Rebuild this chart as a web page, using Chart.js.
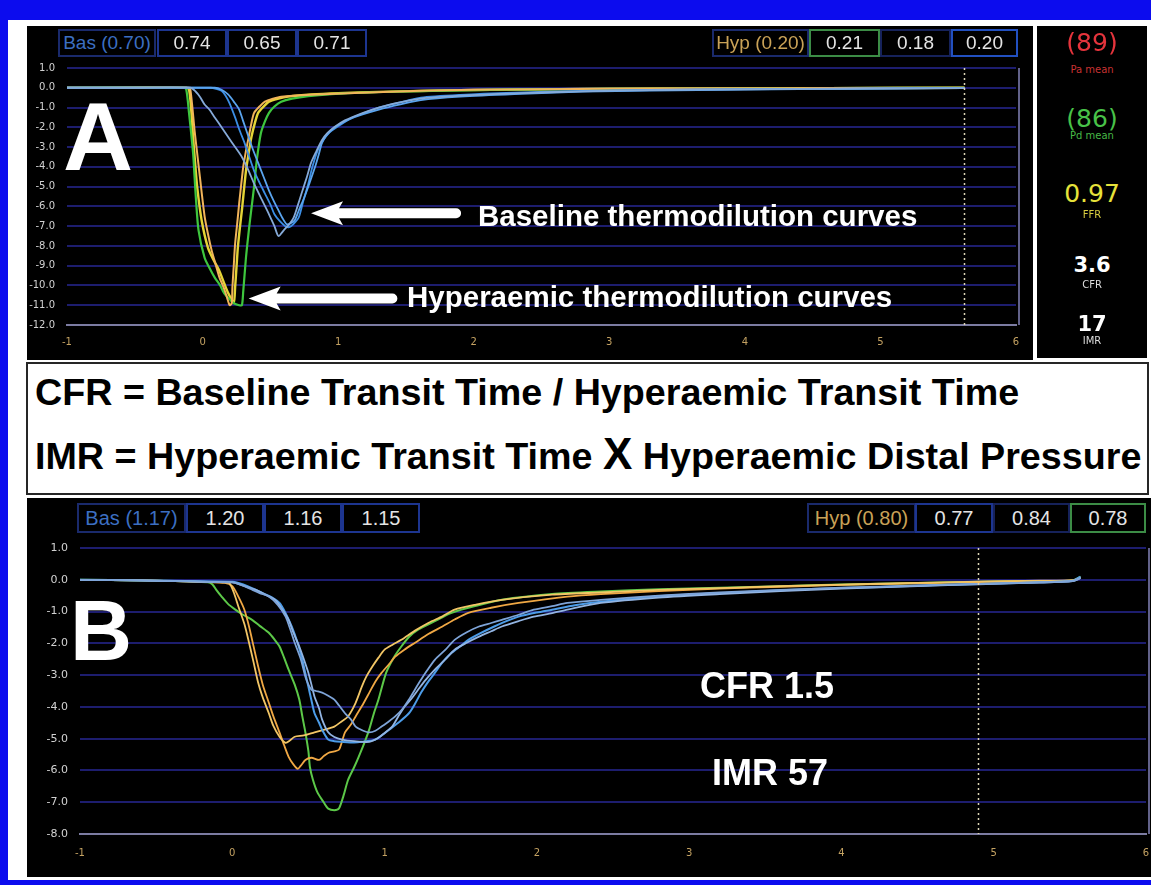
<!DOCTYPE html>
<html>
<head>
<meta charset="utf-8">
<script src="https://cdn.jsdelivr.net/npm/chart.js@4/dist/chart.umd.min.js"></script>
<style>
  html, body { margin: 0; padding: 0; }
  body { width: 1151px; height: 885px; background: #0c0cee; position: relative; overflow: hidden;
         font-family: "Liberation Sans", Arial, sans-serif; }
  .abs { position: absolute; }
  #sheet { left: 8px; top: 20px; width: 1143px; height: 860px; background: #fff; }
  #panelA { left: 27px; top: 26px; width: 1006px; height: 334px; background: #000; }
  #side { left: 1037px; top: 26px; width: 110px; height: 332px; background: #000; }
  #formula { left: 26px; top: 362px; width: 1119px; height: 129px; background: #fff; border: 2px solid #262626; }
  #panelB { left: 27px; top: 498px; width: 1124px; height: 379px; background: #000; }
  canvas { position: absolute; left: 0; top: 0; }
  .box { position: absolute; box-sizing: border-box; border: 2px solid #1a2a6c; background: #000;
         color: #e4e4e4; display: flex; align-items: center; justify-content: center; white-space: nowrap; }
  .lbl { position: absolute; white-space: nowrap; line-height: 1; }
</style>
</head>
<body>
<div id="sheet" class="abs"></div>
<div id="panelA" class="abs"><canvas id="chartA" width="1006" height="334"></canvas></div>
<div id="side" class="abs"></div>
<div id="formula" class="abs"></div>
<div id="panelB" class="abs"><canvas id="chartB" width="1124" height="379"></canvas></div>

<script>
// ---- Panel A: thermodilution curves, temperature change vs time (s) ----
const xTicks = [-1, 0, 1, 2, 3, 4, 5, 6];
const yTicksA = [1, 0, -1, -2, -3, -4, -5, -6, -7, -8, -9, -10, -11, -12];
const yTicksB = [1, 0, -1, -2, -3, -4, -5, -6, -7, -8];
const markerA = 5.62;   // end-of-recording marker
const markerB = 4.9;

const basA1 = [[-1,0],[-0.5,0],[-0.09,0],[-0.05,-0.2],[-0.02,-0.45],[0.015,-0.85],[0.05,-1.1],[0.09,-1.5],[0.14,-2.0],[0.19,-2.5],[0.24,-3.0],[0.29,-3.5],[0.34,-4.2],[0.38,-4.85],[0.44,-5.7],[0.49,-6.4],[0.53,-7.0],[0.56,-7.5],[0.6,-7.2],[0.64,-6.9],[0.67,-6.6],[0.7,-6.0],[0.73,-5.35],[0.77,-4.5],[0.8,-3.8],[0.84,-3.2],[0.88,-2.65],[0.92,-2.3],[0.97,-2.0],[1.05,-1.65],[1.17,-1.3],[1.3,-1.0],[1.41,-0.8],[1.61,-0.55],[1.9,-0.4],[2.3,-0.28],[2.8,-0.18],[3.3,-0.12],[4.0,-0.08],[4.8,-0.04],[5.62,-0.02]];
const basA2 = [[-1,0],[0.09,0],[0.14,-0.1],[0.19,-0.35],[0.23,-0.7],[0.27,-1.1],[0.3,-1.7],[0.34,-2.5],[0.37,-3.1],[0.41,-3.8],[0.45,-4.5],[0.49,-5.2],[0.53,-5.8],[0.56,-6.2],[0.59,-6.6],[0.62,-6.9],[0.65,-6.85],[0.68,-6.7],[0.71,-6.2],[0.75,-5.55],[0.79,-4.8],[0.83,-4.0],[0.86,-3.3],[0.88,-2.8],[0.91,-2.45],[0.95,-2.15],[1.0,-1.9],[1.08,-1.6],[1.18,-1.35],[1.3,-1.1],[1.45,-0.85],[1.61,-0.62],[1.9,-0.45],[2.3,-0.32],[2.8,-0.2],[3.3,-0.14],[4.0,-0.09],[4.8,-0.05],[5.62,-0.02]];
const basA3 = [[-1,0],[0.06,0],[0.1,-0.05],[0.14,-0.15],[0.17,-0.4],[0.2,-0.8],[0.24,-1.5],[0.27,-2.1],[0.31,-2.8],[0.34,-3.4],[0.38,-4.2],[0.42,-4.8],[0.46,-5.35],[0.5,-5.9],[0.53,-6.4],[0.57,-6.75],[0.61,-7.0],[0.64,-7.05],[0.67,-6.9],[0.71,-6.55],[0.74,-5.8],[0.78,-4.85],[0.81,-4.0],[0.85,-3.15],[0.89,-2.65],[0.93,-2.3],[1.0,-1.95],[1.08,-1.6],[1.18,-1.3],[1.3,-1.0],[1.45,-0.75],[1.61,-0.5],[1.9,-0.36],[2.3,-0.25],[2.8,-0.16],[3.3,-0.11],[4.0,-0.07],[4.8,-0.04],[5.62,-0.01]];
const hypA1 = [[-1,0],[-0.14,0],[-0.12,-0.1],[-0.1,-1.27],[-0.07,-3.3],[-0.06,-4.4],[-0.05,-5.5],[-0.03,-7.2],[0.015,-8.6],[0.05,-9.1],[0.09,-9.6],[0.13,-10.0],[0.16,-10.4],[0.2,-10.7],[0.23,-10.9],[0.27,-11.0],[0.29,-11.0],[0.3,-10.3],[0.32,-8.6],[0.335,-7.6],[0.35,-6.7],[0.38,-5.0],[0.4,-3.66],[0.43,-2.3],[0.46,-1.7],[0.49,-1.27],[0.53,-0.95],[0.58,-0.71],[0.66,-0.55],[0.78,-0.42],[0.95,-0.32],[1.2,-0.24],[1.6,-0.17],[2.0,-0.12],[2.5,-0.08],[3.0,-0.06],[3.8,-0.04],[4.6,-0.02],[5.62,0]];
const hypA2 = [[-1,0],[-0.12,0],[-0.1,-0.1],[-0.085,-1.0],[-0.07,-2.5],[-0.055,-3.8],[-0.04,-5.0],[-0.007,-6.7],[0.04,-8.1],[0.08,-8.7],[0.12,-9.2],[0.16,-9.9],[0.19,-10.4],[0.23,-10.85],[0.24,-10.1],[0.25,-9.1],[0.26,-8.1],[0.275,-7.1],[0.29,-6.2],[0.32,-4.2],[0.34,-3.3],[0.36,-2.5],[0.385,-1.8],[0.41,-1.27],[0.45,-0.95],[0.49,-0.7],[0.56,-0.55],[0.63,-0.45],[0.8,-0.34],[1.0,-0.27],[1.3,-0.21],[1.6,-0.16],[2.0,-0.11],[2.5,-0.08],[3.0,-0.05],[3.8,-0.03],[4.6,-0.02],[5.62,0]];
const hypA3 = [[-1,0],[-0.1,0],[-0.09,-0.1],[-0.075,-1.0],[-0.06,-2.1],[-0.04,-3.3],[-0.02,-4.5],[0.015,-6.5],[0.04,-7.4],[0.066,-8.2],[0.095,-8.9],[0.125,-9.6],[0.155,-10.1],[0.18,-10.6],[0.2,-11.0],[0.215,-10.9],[0.22,-10.1],[0.23,-9.0],[0.24,-7.9],[0.255,-6.9],[0.27,-5.85],[0.3,-4.0],[0.32,-3.2],[0.34,-2.5],[0.36,-1.8],[0.38,-1.27],[0.42,-0.95],[0.46,-0.7],[0.52,-0.55],[0.58,-0.45],[0.8,-0.35],[1.17,-0.25],[1.61,-0.15],[2.0,-0.1],[2.5,-0.07],[3.0,-0.05],[3.8,-0.03],[4.6,-0.01],[5.62,0]];

// ---- Panel B ----
const basB1 = [[-1,0],[-0.6,-0.02],[-0.3,-0.05],[0.0,-0.08],[0.02,-0.1],[0.08,-0.2],[0.13,-0.31],[0.18,-0.42],[0.24,-0.53],[0.3,-0.8],[0.35,-1.16],[0.38,-1.55],[0.41,-1.98],[0.45,-2.5],[0.48,-3.05],[0.5,-3.3],[0.52,-3.46],[0.55,-3.5],[0.59,-3.55],[0.63,-3.65],[0.67,-3.77],[0.7,-3.95],[0.74,-4.2],[0.78,-4.4],[0.81,-4.62],[0.86,-4.75],[0.9,-4.8],[0.94,-4.75],[0.98,-4.62],[1.03,-4.45],[1.07,-4.3],[1.12,-4.05],[1.16,-3.77],[1.2,-3.45],[1.24,-3.14],[1.28,-2.85],[1.33,-2.52],[1.4,-2.2],[1.46,-1.89],[1.54,-1.65],[1.62,-1.47],[1.7,-1.36],[1.77,-1.26],[1.88,-1.1],[1.98,-0.94],[2.1,-0.83],[2.2,-0.73],[2.42,-0.63],[2.8,-0.5],[3.2,-0.4],[3.6,-0.32],[4.0,-0.25],[4.5,-0.18],[4.9,-0.13],[5.3,-0.08],[5.52,-0.04],[5.57,0.06]];
const basB2 = [[-1,0],[-0.6,-0.02],[-0.3,-0.04],[0.0,-0.06],[0.04,-0.1],[0.1,-0.2],[0.2,-0.42],[0.26,-0.55],[0.31,-0.73],[0.35,-1.05],[0.39,-1.47],[0.43,-2.0],[0.46,-2.52],[0.48,-2.95],[0.5,-3.37],[0.52,-3.8],[0.54,-4.2],[0.57,-4.5],[0.59,-4.72],[0.63,-5.03],[0.67,-5.08],[0.72,-5.1],[0.8,-5.12],[0.85,-5.1],[0.94,-5.03],[0.98,-4.9],[1.03,-4.72],[1.09,-4.5],[1.16,-4.2],[1.2,-3.9],[1.24,-3.55],[1.28,-3.25],[1.33,-2.93],[1.38,-2.6],[1.44,-2.3],[1.5,-2.08],[1.55,-1.89],[1.63,-1.68],[1.72,-1.47],[1.8,-1.3],[1.88,-1.16],[2.0,-1.03],[2.1,-0.94],[2.25,-0.8],[2.42,-0.69],[2.8,-0.52],[3.2,-0.42],[3.6,-0.33],[4.0,-0.26],[4.5,-0.19],[4.9,-0.13],[5.3,-0.08],[5.52,-0.03],[5.57,0.1]];
const basB3 = [[-1,0],[-0.6,-0.02],[-0.3,-0.05],[0.0,-0.08],[0.02,-0.1],[0.08,-0.2],[0.15,-0.31],[0.21,-0.45],[0.28,-0.63],[0.33,-0.95],[0.37,-1.26],[0.4,-1.65],[0.44,-2.1],[0.47,-2.5],[0.5,-2.93],[0.52,-3.3],[0.54,-3.68],[0.57,-4.05],[0.59,-4.4],[0.63,-4.8],[0.67,-4.95],[0.72,-5.03],[0.8,-5.08],[0.9,-5.1],[0.96,-4.97],[1.0,-4.82],[1.05,-4.62],[1.09,-4.3],[1.13,-4.0],[1.18,-3.72],[1.22,-3.46],[1.27,-3.15],[1.33,-2.83],[1.4,-2.5],[1.46,-2.2],[1.54,-1.98],[1.62,-1.79],[1.7,-1.62],[1.77,-1.47],[1.88,-1.3],[1.98,-1.16],[2.1,-1.05],[2.2,-0.94],[2.42,-0.73],[2.8,-0.56],[3.2,-0.45],[3.6,-0.36],[4.0,-0.28],[4.5,-0.2],[4.9,-0.14],[5.3,-0.09],[5.52,-0.04],[5.57,0.05]];
const hypB1 = [[-1,0],[-0.6,-0.02],[-0.3,-0.05],[-0.16,-0.08],[-0.13,-0.15],[-0.1,-0.35],[-0.07,-0.53],[-0.03,-0.75],[0.02,-0.94],[0.07,-1.1],[0.13,-1.26],[0.18,-1.45],[0.24,-1.67],[0.28,-1.9],[0.31,-2.1],[0.34,-2.45],[0.37,-2.83],[0.41,-3.3],[0.44,-3.77],[0.46,-4.3],[0.48,-4.8],[0.5,-5.4],[0.51,-5.9],[0.53,-6.3],[0.56,-6.7],[0.6,-7.0],[0.63,-7.2],[0.67,-7.25],[0.7,-7.2],[0.73,-6.8],[0.76,-6.3],[0.8,-5.9],[0.83,-5.57],[0.87,-5.1],[0.9,-4.7],[0.93,-4.2],[0.96,-3.77],[1.01,-2.93],[1.06,-2.45],[1.11,-2.1],[1.16,-1.8],[1.22,-1.57],[1.33,-1.3],[1.44,-1.04],[1.6,-0.82],[1.77,-0.63],[2.1,-0.45],[2.42,-0.37],[2.8,-0.3],[3.2,-0.25],[3.6,-0.2],[4.0,-0.15],[4.5,-0.1],[4.9,-0.06],[5.3,-0.04],[5.52,-0.02],[5.57,0.1]];
const hypB2 = [[-1,0],[-0.6,-0.02],[-0.3,-0.05],[-0.05,-0.1],[0,-0.2],[0.04,-0.53],[0.08,-0.95],[0.11,-1.47],[0.14,-2.1],[0.17,-2.73],[0.2,-3.3],[0.24,-3.87],[0.27,-4.3],[0.31,-4.8],[0.34,-5.2],[0.37,-5.57],[0.4,-5.8],[0.43,-5.95],[0.45,-5.85],[0.48,-5.67],[0.52,-5.6],[0.57,-5.67],[0.6,-5.55],[0.63,-5.45],[0.67,-5.4],[0.7,-5.35],[0.72,-5.1],[0.74,-4.8],[0.78,-4.55],[0.81,-4.3],[0.86,-3.9],[0.9,-3.55],[0.94,-3.2],[0.98,-2.93],[1.03,-2.65],[1.07,-2.42],[1.13,-2.2],[1.2,-1.98],[1.29,-1.7],[1.38,-1.47],[1.46,-1.25],[1.55,-1.04],[1.7,-0.88],[1.88,-0.73],[2.2,-0.53],[2.42,-0.45],[2.8,-0.36],[3.2,-0.28],[3.6,-0.22],[4.0,-0.16],[4.5,-0.11],[4.9,-0.07],[5.3,-0.04],[5.52,-0.02],[5.57,0.08]];
const hypB3 = [[-1,0],[-0.6,-0.02],[-0.3,-0.05],[-0.05,-0.08],[-0.02,-0.1],[0.01,-0.4],[0.04,-0.84],[0.08,-1.4],[0.11,-1.98],[0.14,-2.6],[0.17,-3.24],[0.2,-3.7],[0.24,-4.2],[0.27,-4.6],[0.31,-4.94],[0.35,-5.13],[0.38,-5.05],[0.41,-4.94],[0.47,-4.9],[0.54,-4.8],[0.6,-4.72],[0.67,-4.62],[0.72,-4.45],[0.76,-4.3],[0.81,-3.87],[0.85,-3.37],[0.88,-3.05],[0.92,-2.73],[0.96,-2.45],[1.0,-2.2],[1.05,-2.05],[1.11,-1.89],[1.2,-1.6],[1.29,-1.35],[1.38,-1.15],[1.46,-0.94],[1.6,-0.78],[1.77,-0.63],[2.1,-0.47],[2.42,-0.4],[2.8,-0.32],[3.2,-0.26],[3.6,-0.2],[4.0,-0.15],[4.5,-0.1],[4.9,-0.06],[5.3,-0.03],[5.52,-0.01],[5.57,0.06]];

// ---- Header read-outs (transit times) ----
const basLabelA = 'Bas (0.70)', basTimesA = ['0.74', '0.65', '0.71'];
const hypLabelA = 'Hyp (0.20)', hypTimesA = ['0.21', '0.18', '0.20'];
const basLabelB = 'Bas (1.17)', basTimesB = ['1.20', '1.16', '1.15'];
const hypLabelB = 'Hyp (0.80)', hypTimesB = ['0.77', '0.84', '0.78'];

// Right-hand summary values
const sideValues = [
  { big: '(89)', small: 'Pa mean', color: '#e5343c', sub: '#c83232' },
  { big: '(86)', small: 'Pd mean', color: '#48c248', sub: '#46b846' },
  { big: '0.97', small: 'FFR',     color: '#e6e23a', sub: '#d8cc40' },
  { big: '3.6',  small: 'CFR',     color: '#ffffff', sub: '#dddddd', bold: true },
  { big: '17',   small: 'IMR',     color: '#ffffff', sub: '#dddddd', bold: true }
];

// ---------- drawing helpers ----------
function drawArrow(ctx, tipX, tipY, tailX) {
  const headL = 32, headH = 12, shaft = 5;
  ctx.beginPath();
  ctx.moveTo(tipX, tipY);
  ctx.lineTo(tipX + headL, tipY - headH);
  ctx.lineTo(tipX + headL - 4, tipY - shaft);
  ctx.lineTo(tailX, tipY - shaft);
  ctx.arc(tailX, tipY, shaft, -Math.PI / 2, Math.PI / 2);
  ctx.lineTo(tipX + headL - 4, tipY + shaft);
  ctx.lineTo(tipX + headL, tipY + headH);
  ctx.closePath();
  ctx.fillStyle = '#ffffff';
  ctx.fill();
}

const frameExtras = {
  id: 'frameExtras',
  beforeDatasetsDraw(chart, args, opts) {
    const { ctx, chartArea: a } = chart;
    ctx.save();
    ctx.strokeStyle = '#62628a';
    ctx.lineWidth = 2;
    ctx.beginPath();
    ctx.moveTo(a.right + 3, a.top);
    ctx.lineTo(a.right + 3, a.bottom);
    ctx.stroke();
    ctx.restore();
  },
  afterDatasetsDraw(chart, args, opts) {
    const { ctx, chartArea: a, scales: { x, y } } = chart;
    ctx.save();
    const mx = Math.round(x.getPixelForValue(opts.marker)) + 0.5;
    ctx.setLineDash([2, 3]);
    ctx.strokeStyle = '#ddd6b8';
    ctx.lineWidth = 1.5;
    ctx.beginPath();
    ctx.moveTo(mx, a.top);
    ctx.lineTo(mx, a.bottom);
    ctx.stroke();
    ctx.setLineDash([]);
    (opts.arrows || []).forEach(ar => {
      drawArrow(ctx, x.getPixelForValue(ar.tip[0]), y.getPixelForValue(ar.tip[1]), x.getPixelForValue(ar.tail));
    });
    ctx.restore();
  }
};

function makeChart(id, series, cfg) {
  return new Chart(document.getElementById(id), {
    type: 'line',
    data: {
      datasets: series.map(s => ({
        data: s.points.map(([x, y]) => ({ x, y })),
        borderColor: s.color,
        borderWidth: s.width,
        pointRadius: 0,
        tension: 0.25,
        fill: false
      }))
    },
    options: {
      responsive: false,
      animation: false,
      events: [],
      layout: { padding: cfg.padding },
      plugins: {
        legend: { display: false },
        tooltip: { enabled: false },
        frameExtras: { marker: cfg.marker, arrows: cfg.arrows }
      },
      scales: {
        x: {
          type: 'linear', min: -1, max: 6,
          afterBuildTicks: s => { s.ticks = xTicks.map(v => ({ value: v })); },
          afterFit: s => { s.height = cfg.xHeight; },
          grid: { display: false, tickLength: cfg.xGap },
          border: { display: true, color: '#7c7ca2', width: 2 },
          ticks: { color: '#c4a262', padding: 0, maxRotation: 0,
                   font: { family: 'DejaVu Sans', size: cfg.xFont }, callback: v => String(v) }
        },
        y: {
          type: 'linear', min: cfg.yTicks[cfg.yTicks.length - 1], max: cfg.yTicks[0],
          afterBuildTicks: s => { s.ticks = cfg.yTicks.map(v => ({ value: v })); },
          afterFit: s => { s.width = cfg.yWidth; },
          grid: { drawTicks: false, lineWidth: 2,
                  color: c => (c.tick && c.tick.value === cfg.yTicks[cfg.yTicks.length - 1]) ? '#7c7ca2' : '#1d1d6e' },
          border: { display: false },
          ticks: { color: '#d2d2d2', padding: 12,
                   font: { family: 'DejaVu Sans', size: cfg.yFont }, callback: v => v.toFixed(1) }
        }
      }
    },
    plugins: [frameExtras]
  });
}

makeChart('chartA', [
  { points: basA1, color: '#86aad8', width: 1.8 },
  { points: basA2, color: '#5aa4ee', width: 1.8 },
  { points: basA3, color: '#3c8ee4', width: 1.8 },
  { points: hypA3, color: '#f2b45a', width: 2 },
  { points: hypA1, color: '#3ec63e', width: 2.2 },
  { points: hypA2, color: '#e4d436', width: 2.4 }
], {
  padding: { left: 0, top: 42, right: 17, bottom: 0 },
  yWidth: 40, xHeight: 35, xGap: 11, xFont: 10, yFont: 10,
  yTicks: yTicksA, marker: markerA,
  arrows: [ { tip: [0.80, -6.35], tail: 1.87 }, { tip: [0.34, -10.66], tail: 1.40 } ]
});

makeChart('chartB', [
  { points: basB1, color: '#7ea4d8', width: 1.8 },
  { points: basB3, color: '#92b4e2', width: 1.8 },
  { points: basB2, color: '#4c9ce8', width: 2 },
  { points: hypB3, color: '#f2c666', width: 1.8 },
  { points: hypB2, color: '#f0a844', width: 1.8 },
  { points: hypB1, color: '#5cc848', width: 2 }
], {
  padding: { left: 0, top: 50, right: 5, bottom: 0 },
  yWidth: 53, xHeight: 43, xGap: 13, xFont: 10, yFont: 11,
  yTicks: yTicksB, marker: markerB, arrows: []
});

// ---------- text overlays ----------
function addText(txt, x, baseline, size, opts = {}) {
  const d = document.createElement('div');
  d.className = 'lbl';
  d.textContent = txt;
  d.style.fontSize = size + 'px';
  d.style.top = (baseline - 0.846 * size) + 'px';
  d.style.color = opts.color || '#fff';
  d.style.fontWeight = opts.bold ? 'bold' : 'normal';
  if (opts.family) d.style.fontFamily = opts.family;
  if (opts.center) { d.style.left = x + 'px'; d.style.transform = 'translateX(-50%)'; }
  else d.style.left = x + 'px';
  document.body.appendChild(d);
  return d;
}

function addBox(txt, x, y, w, h, size, color, border) {
  const d = document.createElement('div');
  d.className = 'box';
  Object.assign(d.style, { left: x + 'px', top: y + 'px', width: w + 'px', height: h + 'px', fontSize: size + 'px' });
  if (color) d.style.color = color;
  if (border) d.style.borderColor = border;
  d.textContent = txt;
  document.body.appendChild(d);
}

// Panel A read-outs
addBox(basLabelA, 58, 29, 98, 28, 19, '#3c6fc2');
[157, 227, 297].forEach((x, i) => addBox(basTimesA[i], x, 29, 70, 28, 19, null, '#1d3590'));
addBox(hypLabelA, 712, 29, 97, 28, 19, '#c9a257');
addBox(hypTimesA[0], 809, 29, 71, 28, 19, null, '#3c8c46');
addBox(hypTimesA[1], 880, 29, 71, 28, 19, null, '#16225a');
addBox(hypTimesA[2], 951, 29, 67, 28, 19, null, '#2250c0');

// Panel B read-outs
addBox(basLabelB, 77, 503, 109, 30, 20, '#3c6fc2');
[186, 264, 342].forEach((x, i) => addBox(basTimesB[i], x, 503, 78, 30, 20, null, '#1d3590'));
addBox(hypLabelB, 807, 503, 109, 30, 20, '#c9a257');
addBox(hypTimesB[0], 915, 503, 78, 30, 20, null, '#1d3590');
addBox(hypTimesB[1], 993, 503, 77, 30, 20, null, '#16225a');
addBox(hypTimesB[2], 1070, 503, 76, 30, 20, null, '#3c8c46');

// Panel letters and annotations
addText('A', 63, 170, 97, { bold: true });
addText('B', 70, 660, 86, { bold: true });
addText('Baseline thermodilution curves', 478, 226, 29.5, { bold: true });
addText('Hyperaemic thermodilution curves', 407, 307, 29.5, { bold: true });
addText('CFR 1.5', 700, 698, 36, { bold: true });
addText('IMR 57', 712, 785, 36, { bold: true });

// Formula box
addText('CFR = Baseline Transit Time / Hyperaemic Transit Time', 35, 406, 37.7, { bold: true, color: '#000' });
const l2 = addText('', 35, 464, 37.7, { bold: true, color: '#000' });
l2.innerHTML = 'IMR = Hyperaemic Transit Time <span style="font-size:44px">X</span> Hyperaemic Distal Pressure';

// Summary column
const sideLayout = [[51, 73], [127, 139], [202, 218], [273, 288], [332, 344]];
sideValues.forEach((v, i) => {
  const [b1, b2] = sideLayout[i];
  addText(v.big, 1092, b1, v.bold ? 21 : 25, { center: true, color: v.color, bold: v.bold, family: 'DejaVu Sans' });
  addText(v.small, 1092, b2, 10, { center: true, color: v.sub, family: 'DejaVu Sans' });
});
</script>
</body>
</html>
